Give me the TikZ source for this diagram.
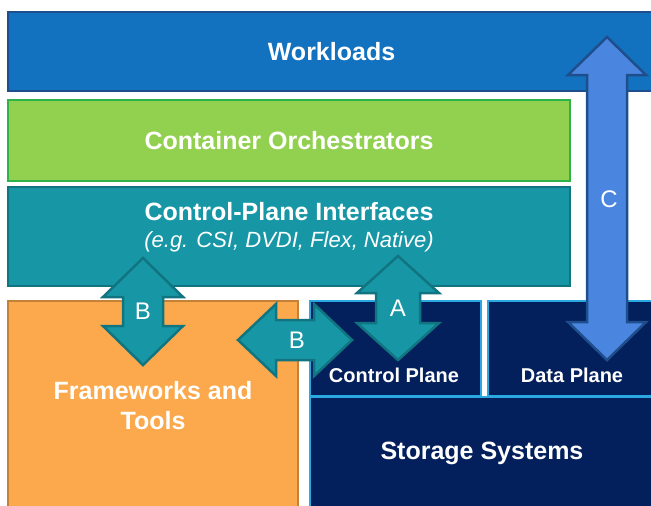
\documentclass[tikz,border=0pt]{standalone}
\usepackage{fontspec}
\setmainfont{Liberation Sans}

\definecolor{wlblue}{HTML}{1272BF}
\definecolor{wledge}{HTML}{1F4E8C}
\definecolor{orgreen}{HTML}{92D050}
\definecolor{oredge}{HTML}{2DB34A}
\definecolor{cpiteal}{HTML}{1797A6}
\definecolor{cpiedge}{HTML}{107580}
\definecolor{fworange}{HTML}{FBA94C}
\definecolor{fwedge}{HTML}{C48238}
\definecolor{ssnavy}{HTML}{03205C}
\definecolor{ssedge}{HTML}{2AA9E0}
\definecolor{arrblue}{HTML}{4A86E0}

% block arrows: style, centre, first tip, second tip, head half width, shaft half width, head length
\newcommand{\vbiarrow}[7]{%
  \draw[#1] (#2,#3) -- (#2+#5,#3+#7) -- (#2+#6,#3+#7) -- (#2+#6,#4-#7)
    -- (#2+#5,#4-#7) -- (#2,#4) -- (#2-#5,#4-#7) -- (#2-#6,#4-#7)
    -- (#2-#6,#3+#7) -- (#2-#5,#3+#7) -- cycle;}
\newcommand{\hbiarrow}[7]{%
  \draw[#1] (#3,#2) -- (#3+#7,#2-#5) -- (#3+#7,#2-#6) -- (#4-#7,#2-#6)
    -- (#4-#7,#2-#5) -- (#4,#2) -- (#4-#7,#2+#5) -- (#4-#7,#2+#6)
    -- (#3+#7,#2+#6) -- (#3+#7,#2+#5) -- cycle;}

\tikzset{
  layer/.style={draw, line width=2.5pt, inner sep=0pt, text=white,
    font=\bfseries\fontsize{25}{30}\selectfont},
  boxtext/.style={inner sep=0pt, text=white, font=\bfseries\fontsize{25}{30}\selectfont},
  planetext/.style={inner sep=0pt, text=white, font=\bfseries\fontsize{20}{24}\selectfont},
  arrlabel/.style={inner sep=0pt, text=white, font=\fontsize{24}{28}\selectfont},
  tealarrow/.style={fill=cpiteal, draw=cpiedge, line width=2.5pt},
  bluearrow/.style={fill=arrblue, draw=wledge, line width=2.5pt}
}

\begin{document}
\begin{tikzpicture}[x=1pt, y=-1pt]
    \useasboundingbox (0,0) rectangle (651,506);
    \clip (0,0) rectangle (651,506);

    % layers
    \node[layer, fill=wlblue, draw=wledge, minimum width=647, minimum height=79] (work) at (331.5,51.5) {Workloads};
    \node[layer, fill=orgreen, draw=oredge, line width=2pt, minimum width=562, minimum height=81] (orch) at (289,140.5) {Container Orchestrators};
    \node[layer, fill=cpiteal, draw=cpiedge, line width=2pt, minimum width=562, minimum height=99] (cpi) at (289,236.5) {};
    \node[boxtext] (cpititle) at (289,212) {Control-Plane Interfaces};
    \node[boxtext, font=\itshape\fontsize{22}{26}\selectfont] (cpisub) at (289,242) {(e.g. CSI, DVDI, Flex, Native)};

    % frameworks and storage
    \node[layer, fill=fworange, draw=fwedge, line width=2pt, minimum width=290, minimum height=214] (fw) at (153,408) {};
    \node[boxtext, align=center] (fwtext) at (153,406) {Frameworks and\\Tools};
    \node[layer, fill=ssnavy, draw=ssedge, minimum width=171, minimum height=95] (cp) at (395.5,348.5) {};
    \node[layer, fill=ssnavy, draw=ssedge, minimum width=172, minimum height=95] (dp) at (574,348.5) {};
    \node[layer, fill=ssnavy, draw=ssedge, minimum width=350, minimum height=118] (ss) at (485,456) {};
    \node[planetext] (cptext) at (394,375) {Control Plane};
    \node[planetext] (dptext) at (572,375) {Data Plane};
    \node[boxtext] (sstext) at (482,453) {Storage Systems};

    % interfaces
    \vbiarrow{bluearrow}{607}{37}{360}{39}{20}{38}
    \vbiarrow{tealarrow}{143}{258}{365}{40}{20}{39}
    \vbiarrow{tealarrow}{398}{256}{360}{41}{22}{37}
    \hbiarrow{tealarrow}{340}{238}{352}{36}{20}{38}

    \node[arrlabel] (labc) at (609,199) {C};
    \node[arrlabel] (labbv) at (143,311) {B};
    \node[arrlabel] (laba) at (398,308) {A};
    \node[arrlabel] (labbh) at (297,340) {B};
\end{tikzpicture}
\end{document}
